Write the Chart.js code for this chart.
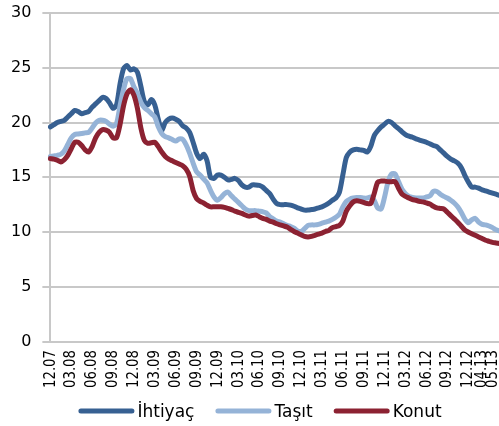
<!DOCTYPE html>
<html lang="tr">
<head>
<meta charset="utf-8">
<title>Kredi faiz oranları</title>
<script src="https://cdn.jsdelivr.net/npm/chart.js@4/dist/chart.umd.min.js"></script>
<style>
  html, body { margin: 0; padding: 0; background: #fff; overflow: hidden; }
  #wrap { width: 520px; height: 426px; }
</style>
</head>
<body>
<div id="wrap"><canvas id="c" width="520" height="426"></canvas></div>
<script>
// Half-monthly observations, December 2007 – May 2013 (%)
const ihtiyac = [
  19.6, 19.8, 20.0, 20.1, 20.2, 20.5, 20.8, 21.1, 21.0, 20.8,
  20.9, 21.0, 21.4, 21.7, 22.0, 22.3, 22.2, 21.8, 21.3, 21.6,
  23.5, 24.9, 25.2, 24.8, 24.9, 24.6, 23.3, 21.9, 21.6, 22.1,
  21.6, 20.3, 19.3, 20.0, 20.3, 20.4, 20.3, 20.1, 19.7, 19.5,
  19.1, 18.2, 17.2, 16.7, 17.1, 16.5, 15.0, 14.9, 15.2, 15.2,
  15.0, 14.75, 14.8, 14.9, 14.7, 14.3, 14.1, 14.1, 14.3, 14.3,
  14.25, 14.1, 13.8, 13.5, 13.0, 12.6, 12.5, 12.5, 12.5, 12.45,
  12.35, 12.2, 12.1, 12.0, 12.0, 12.05, 12.1, 12.2, 12.3, 12.45,
  12.65, 12.9, 13.1, 13.6, 15.2, 16.8, 17.3, 17.5, 17.55, 17.5,
  17.45, 17.3, 17.8, 18.8, 19.25, 19.6, 19.85, 20.1, 20.0, 19.7,
  19.45, 19.15, 18.9, 18.75, 18.65, 18.5, 18.4, 18.3, 18.2, 18.05,
  17.9, 17.8, 17.5, 17.2, 16.9, 16.65, 16.5, 16.3, 15.9, 15.2,
  14.6, 14.1, 14.1, 14.0, 13.85, 13.75, 13.65, 13.55, 13.45, 13.35
];
const tasit = [
  16.9, 16.95, 17.0, 17.1, 17.4, 18.0, 18.6, 18.9, 18.95, 19.0,
  19.05, 19.1, 19.5, 19.95, 20.2, 20.2, 20.1, 19.85, 19.65, 19.9,
  21.5, 23.0, 24.0, 24.0, 23.25, 22.65, 21.85, 21.35, 21.1, 20.8,
  20.5, 19.6, 19.0, 18.7, 18.6, 18.45, 18.3, 18.5, 18.45, 17.95,
  17.2, 16.3, 15.5, 15.2, 14.85, 14.5, 13.8, 13.2, 12.9, 13.15,
  13.5, 13.65, 13.3, 13.0, 12.7, 12.4, 12.1, 11.95, 11.95, 11.95,
  11.9, 11.85, 11.75, 11.4, 11.2, 11.0, 10.9, 10.75, 10.6, 10.5,
  10.35, 10.1, 10.05, 10.3, 10.6, 10.65, 10.65, 10.7, 10.8, 10.9,
  11.0, 11.15, 11.35, 11.6, 12.3, 12.8, 13.0, 13.1, 13.15, 13.15,
  13.1, 13.1, 13.2, 12.9, 12.2, 12.1, 13.2, 14.6, 15.3, 15.3,
  14.6, 13.9, 13.5, 13.25, 13.15, 13.1, 13.1, 13.1, 13.2, 13.3,
  13.7, 13.7, 13.45, 13.25, 13.1, 12.9, 12.65, 12.3, 11.8, 11.2,
  10.85, 11.1, 11.25, 10.9, 10.7, 10.65, 10.55, 10.4, 10.2, 10.1
];
const konut = [
  16.7, 16.65, 16.55, 16.4, 16.6, 17.0, 17.6, 18.2, 18.2, 17.9,
  17.5, 17.3, 17.8, 18.6, 19.1, 19.35, 19.3, 19.1, 18.6, 18.6,
  19.8, 21.5, 22.6, 23.0, 22.5, 21.3, 19.5, 18.35, 18.1, 18.15,
  18.2, 17.8, 17.3, 16.9, 16.65, 16.5, 16.35, 16.2, 16.05, 15.75,
  15.1, 13.8, 13.05, 12.8, 12.65, 12.45, 12.3, 12.3, 12.3, 12.3,
  12.25, 12.15, 12.05, 11.9, 11.8, 11.7, 11.55, 11.45, 11.5, 11.55,
  11.4, 11.25, 11.15, 11.0, 10.9, 10.75, 10.65, 10.55, 10.45, 10.25,
  10.05, 9.9, 9.75, 9.6, 9.55, 9.6, 9.7, 9.8, 9.9, 10.05,
  10.15, 10.4, 10.5, 10.6, 11.0, 11.9, 12.4, 12.75, 12.85, 12.8,
  12.7, 12.6, 12.6, 13.5, 14.55, 14.65, 14.65, 14.6, 14.6, 14.6,
  14.0, 13.45, 13.25, 13.1, 12.95, 12.9, 12.8, 12.75, 12.65, 12.55,
  12.35, 12.2, 12.15, 12.1, 11.8, 11.5, 11.2, 10.9, 10.55, 10.2,
  10.0, 9.85, 9.7, 9.55, 9.4, 9.25, 9.15, 9.05, 9.0, 8.95
];

// Axis labels and the observation each one sits under
const tickLabels = ['12.07', '03.08', '06.08', '09.08', '12.08', '03.09', '06.09',
  '09.09', '12.09', '03.10', '06.10', '09.10', '12.10', '03.11', '06.11', '09.11',
  '12.11', '03.12', '06.12', '09.12', '12.12', '04.13', '05.13'];
const tickIndex = [0, 6, 12, 18, 24, 30, 36, 42, 48, 54, 60, 66, 72, 78, 84, 90,
  96, 102, 108, 114, 120, 124, 127];

const seriesNames = ['İhtiyaç', 'Taşıt', 'Konut'];

const categories = ihtiyac.map((v, i) => i);

// Vertical date labels under the x axis, read bottom-to-top, slightly condensed
const dateLabels = {
  id: 'dateLabels',
  afterDraw(chart, args, opts) {
    const ctx = chart.ctx;
    const xs = chart.scales.x;
    const top = chart.chartArea.bottom + opts.offset;
    ctx.save();
    ctx.font = opts.font;
    ctx.fillStyle = opts.color;
    ctx.textAlign = 'right';
    ctx.textBaseline = 'middle';
    tickIndex.forEach((idx, k) => {
      const x = xs.getPixelForValue(idx);
      ctx.save();
      ctx.translate(x, top);
      ctx.rotate(-Math.PI / 2);
      ctx.scale(opts.condense, 1);
      ctx.fillText(tickLabels[k], 0, 0);
      ctx.restore();
    });
    ctx.restore();
  }
};

// Legend drawn as thick rounded line samples followed by the series name
const lineLegend = {
  id: 'lineLegend',
  afterDraw(chart, args, opts) {
    const ctx = chart.ctx;
    ctx.save();
    ctx.font = opts.font;
    const items = chart.data.datasets.map(ds => ({
      ds,
      w: opts.lineLength + opts.gap + ctx.measureText(ds.label).width
    }));
    const total = items.reduce((s, it) => s + it.w, 0) + opts.spacing * (items.length - 1);
    let x = chart.width / 2 - total / 2;
    const yLine = chart.height - opts.lineOffset;
    const yText = chart.height - opts.textOffset;
    items.forEach(it => {
      ctx.strokeStyle = it.ds.borderColor;
      ctx.lineWidth = opts.lineWidth;
      ctx.lineCap = 'round';
      ctx.beginPath();
      ctx.moveTo(x + opts.lineWidth / 2, yLine);
      ctx.lineTo(x + opts.lineLength - opts.lineWidth / 2, yLine);
      ctx.stroke();
      ctx.fillStyle = opts.color;
      ctx.textBaseline = 'alphabetic';
      ctx.textAlign = 'left';
      ctx.fillText(it.ds.label, x + opts.lineLength + opts.gap, yText);
      x += it.w + opts.spacing;
    });
    ctx.restore();
  }
};

const gridColor = '#c8c8c8';

new Chart(document.getElementById('c'), {
  type: 'line',
  data: {
    labels: categories,
    datasets: [
      { label: seriesNames[0], data: ihtiyac, borderColor: '#376092', order: 3 },
      { label: seriesNames[1], data: tasit, borderColor: '#95b3d7', order: 2 },
      { label: seriesNames[2], data: konut, borderColor: '#8c2232', order: 1 }
    ].map(ds => Object.assign(ds, {
      borderWidth: 5,
      pointRadius: 0,
      tension: 0.25,
      fill: false,
      borderJoinStyle: 'round',
      borderCapStyle: 'round'
    }))
  },
  options: {
    responsive: false,
    animation: false,
    devicePixelRatio: 1,
    layout: { padding: { left: 0, right: 20.5, top: 13, bottom: 84.5 } },
    plugins: {
      legend: { display: false },
      tooltip: { enabled: false },
      dateLabels: {
        font: "16px 'DejaVu Sans'",
        color: '#000',
        offset: 8.5,
        condense: 0.83
      },
      lineLegend: {
        font: "17px 'DejaVu Sans'",
        color: '#000',
        lineLength: 56,
        lineWidth: 5,
        gap: 3,
        spacing: 21,
        lineOffset: 15,
        textOffset: 9
      }
    },
    scales: {
      x: {
        type: 'category',
        offset: false,
        grid: { display: false, drawTicks: false },
        border: { display: true, color: gridColor, width: 2 },
        ticks: { display: false },
        afterFit(s) { s.height = 0; s.paddingLeft = 0; s.paddingRight = 0; }
      },
      y: {
        min: 0,
        max: 30,
        grid: { color: gridColor, lineWidth: 2, drawTicks: true, tickLength: 8 },
        border: { display: true, color: gridColor, width: 2 },
        ticks: {
          stepSize: 5,
          padding: 11,
          color: '#000',
          font: { family: "'DejaVu Sans'", size: 16 }
        },
        afterFit(s) { s.paddingTop = 0; s.paddingBottom = 0; }
      }
    }
  },
  plugins: [dateLabels, lineLegend]
});
</script>
</body>
</html>
